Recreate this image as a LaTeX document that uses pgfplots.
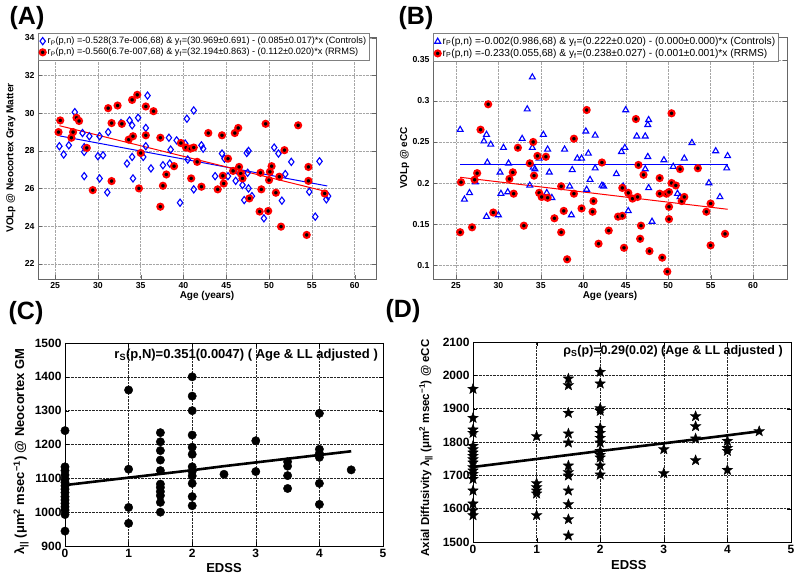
\documentclass[border=0pt]{standalone}
\usepackage{fontspec}
\setmainfont{Liberation Sans}
\usepackage{pgfplots}
\pgfplotsset{compat=1.18}

% filled five-pointed star, like MATLAB's pentagram
\pgfdeclareplotmark{fstar}{%
  \pgfpathmoveto{\pgfpointpolar{90}{\pgfplotmarksize}}%
  \pgfpathlineto{\pgfpointpolar{126}{0.42\pgfplotmarksize}}%
  \pgfpathlineto{\pgfpointpolar{162}{\pgfplotmarksize}}%
  \pgfpathlineto{\pgfpointpolar{198}{0.42\pgfplotmarksize}}%
  \pgfpathlineto{\pgfpointpolar{234}{\pgfplotmarksize}}%
  \pgfpathlineto{\pgfpointpolar{270}{0.42\pgfplotmarksize}}%
  \pgfpathlineto{\pgfpointpolar{306}{\pgfplotmarksize}}%
  \pgfpathlineto{\pgfpointpolar{342}{0.42\pgfplotmarksize}}%
  \pgfpathlineto{\pgfpointpolar{18}{\pgfplotmarksize}}%
  \pgfpathlineto{\pgfpointpolar{54}{0.42\pgfplotmarksize}}%
  \pgfpathclose
  \pgfusepathqfillstroke}

\pgfplotsset{
    ageaxis/.style={
        scale only axis,
        height=242pt,
        xtick={25,30,...,60},
        grid=major,
        major grid style={densely dotted, black!35},
        axis line style={black!60},
        tick style={black!60},
        tick label style={font=\fontsize{8.7}{10}\selectfont\bfseries},
        /pgf/number format/assume math mode=true,
        xlabel={Age (years)},
        label style={font=\fontsize{10}{12}\selectfont\bfseries},
        xlabel style={at={(axis description cs:0.5,-0.07)}, anchor=center},
        ylabel style={at={(axis description cs:-0.08,0.5)}, anchor=center},
        legend cell align=left,
        legend style={
            at={(0,1.015)}, anchor=north west,
            draw=black!50, fill=white,
            inner sep=1.5pt, row sep=-1pt,
        },
    },
    edssaxis/.style={
        scale only axis,
        width=318pt,
        xmin=0, xmax=5,
        xtick={0,1,2,3,4,5},
        grid=major,
        major grid style={densely dotted, black!85},
        axis line style={black, line width=0.8pt},
        tick style={black},
        tick label style={font=\fontsize{12}{14}\selectfont\bfseries},
        /pgf/number format/assume math mode=true,
        /pgf/number format/set thousands separator={},
        scaled ticks=false,
        xlabel={EDSS},
        label style={font=\fontsize{13}{15}\selectfont\bfseries},
    },
    ctrl/.style={only marks, mark=diamond, mark size=3.6pt, mark options={draw=blue, line width=1.1pt, fill=none}},
    rrms/.style={only marks, mark=*, mark size=3pt, mark options={draw=red, fill=black, line width=2.1pt}},
    tri/.style={only marks, mark=triangle, mark size=3.4pt, mark options={draw=blue, line width=1.1pt, fill=none}},
    fitline/.style={no marks, line width=1pt, forget plot},
}

\begin{document}
\begin{tikzpicture}
\useasboundingbox (0,0) rectangle (800pt,580pt);

% ---------------- (A)
\begin{axis}[
    ageaxis,
    at={(38pt,301pt)}, anchor=south west,
    width=338pt,
    xmin=23, xmax=62.5,
    ymin=21.2, ymax=34.05,
    ytick={22,24,26,28,30,32,34},
    ylabel={VOLp @ Neocortex Gray Matter},
    legend style={font=\fontsize{9.2}{11.5}\selectfont},
]
\addplot[ctrl] table {
x y
25.5 28.25
26.0 27.81
26.6 28.30
27.3 30.06
28.2 28.95
28.4 28.20
28.4 27.95
28.4 26.66
29.0 28.78
30.0 27.72
30.2 26.54
30.2 28.78
30.6 27.77
31.1 25.80
31.2 29.00
32.7 29.48
33.4 27.33
33.7 29.62
34.0 27.68
34.1 26.54
34.0 29.36
34.7 29.76
35.3 27.68
35.6 28.25
35.6 29.22
35.8 30.94
36.2 27.07
37.6 27.24
38.3 28.70
38.5 28.07
38.4 27.33
39.2 28.56
39.6 25.25
40.2 28.39
40.4 29.71
40.5 27.54
41.2 30.15
41.2 25.96
42.1 28.30
42.3 28.12
43.7 26.66
44.5 27.86
44.8 27.59
45.2 26.66
46.1 26.41
46.2 26.98
46.9 26.19
47.1 25.39
47.4 27.89
47.6 28.00
47.5 26.84
47.6 26.01
48.0 25.60
49.4 24.42
50.6 28.18
51.1 27.86
51.5 25.36
51.9 26.77
52.6 27.42
54.7 25.83
55.4 24.51
55.9 27.45
56.7 25.43
56.9 25.60
};
\addlegendentry{r\textsubscript{P}(p,n) =-0.528(3.7e-006,68) \& y\textsubscript{f}=(30.969±0.691) - (0.085±0.017)*x (Controls)}
\addplot[rrms] table {
x y
25.4 29.00
25.6 29.62
26.9 28.70
27.1 29.00
27.5 29.76
27.8 29.59
28.7 28.16
29.4 25.92
31.2 30.27
31.6 29.48
31.6 26.40
32.3 30.41
32.8 29.44
33.6 28.60
34.0 30.71
34.1 28.78
34.6 30.98
34.8 26.01
35.0 27.89
35.6 30.36
35.6 28.83
36.5 30.11
37.3 28.70
37.3 25.04
37.6 26.15
38.0 26.75
38.9 27.19
39.7 28.42
40.3 28.18
40.8 28.12
41.2 28.18
40.9 26.54
41.6 27.42
42.1 26.10
42.9 28.95
44.0 25.96
44.5 28.83
44.6 26.68
44.7 26.27
45.2 27.59
46.0 28.95
46.4 29.22
45.8 26.94
46.5 27.15
46.7 26.80
46.9 26.54
47.7 25.48
49.0 26.84
49.1 25.96
48.9 24.78
49.6 29.44
49.9 24.81
50.0 26.45
50.1 26.89
50.3 27.19
50.8 25.78
51.2 26.63
51.4 23.98
51.8 28.04
53.4 29.36
54.4 23.54
54.6 27.15
54.6 26.41
56.5 25.74
};
\addlegendentry{r\textsubscript{P}(p,n) =-0.560(6.7e-007,68) \& y\textsubscript{f}=(32.194±0.863) - (0.112±0.020)*x (RRMS)}
\addplot[fitline, draw=blue] coordinates {(25.5,28.80) (56.8,26.14)};
\addplot[fitline, draw=red] coordinates {(25.5,29.34) (56.8,25.83)};
\end{axis}

% ---------------- (B)
\begin{axis}[
    ageaxis,
    at={(433pt,301pt)}, anchor=south west,
    width=354pt,
    xmin=22.3, xmax=64,
    ymin=0.083, ymax=0.378,
    ytick={0.1,0.15,0.2,0.25,0.3,0.35},
    yticklabel style={/pgf/number format/fixed},
    ylabel={VOLp @ eCC},
    legend style={font=\fontsize{10.2}{12}\selectfont},
]
\addplot[tri] table {
x y
25.5 0.265
26.0 0.180
26.6 0.188
27.3 0.201
28.3 0.251
28.6 0.259
28.7 0.225
28.6 0.159
29.1 0.247
30.0 0.161
30.2 0.213
30.3 0.187
30.6 0.243
31.1 0.189
31.2 0.224
32.8 0.254
33.4 0.290
33.7 0.197
34.0 0.243
34.0 0.329
34.1 0.219
34.3 0.217
34.8 0.230
35.3 0.259
35.7 0.188
35.8 0.241
36.0 0.213
36.3 0.182
37.8 0.241
38.4 0.196
38.6 0.161
38.7 0.216
39.3 0.230
39.8 0.230
40.3 0.263
40.4 0.192
40.6 0.236
40.8 0.204
41.4 0.218
41.4 0.258
42.2 0.197
42.4 0.196
43.9 0.211
44.5 0.238
44.7 0.196
44.9 0.243
45.0 0.289
45.3 0.166
46.3 0.257
47.3 0.257
47.3 0.217
47.6 0.271
47.7 0.277
47.6 0.232
47.7 0.194
48.1 0.153
49.5 0.228
50.6 0.220
51.1 0.187
51.4 0.183
51.9 0.230
52.8 0.249
54.8 0.200
55.6 0.239
56.1 0.183
57.0 0.233
56.9 0.218
};
\addlegendentry{r\textsubscript{P}(p,n) =-0.002(0.986,68) \& y\textsubscript{f}=(0.222±0.020) - (0.000±0.000)*x (Controls)}
\addplot[rrms] table {
x y
25.5 0.140
25.6 0.201
26.9 0.146
27.2 0.204
27.5 0.212
27.9 0.265
28.8 0.296
29.4 0.164
31.3 0.205
31.7 0.213
31.8 0.187
32.3 0.243
33.0 0.148
33.7 0.224
34.1 0.250
34.2 0.209
34.6 0.233
34.8 0.188
35.1 0.183
35.6 0.232
35.8 0.182
36.6 0.157
37.4 0.196
37.4 0.140
37.7 0.166
38.1 0.107
38.9 0.254
38.9 0.187
39.8 0.169
40.4 0.289
41.1 0.165
41.2 0.178
41.8 0.126
42.2 0.225
43.0 0.142
44.1 0.159
44.6 0.160
44.6 0.194
44.8 0.121
45.3 0.188
45.8 0.181
46.2 0.278
46.4 0.183
46.5 0.222
46.7 0.132
46.8 0.148
47.1 0.210
47.8 0.117
49.0 0.206
49.0 0.187
49.3 0.109
49.8 0.187
49.9 0.092
50.1 0.171
50.1 0.156
50.1 0.189
50.4 0.285
50.4 0.200
50.9 0.197
51.4 0.217
51.6 0.178
51.9 0.183
53.5 0.218
54.5 0.165
55.0 0.175
55.0 0.124
56.7 0.138
};
\addlegendentry{r\textsubscript{P}(p,n) =-0.233(0.055,68) \& y\textsubscript{f}=(0.238±0.027) - (0.001±0.001)*x (RRMS)}
\addplot[fitline, draw=blue] coordinates {(25.5,0.222) (57.0,0.222)};
\addplot[fitline, draw=red] coordinates {(25.5,0.207) (57.0,0.168)};
\end{axis}

% ---------------- (C)
\begin{axis}[
    edssaxis,
    at={(65pt,34pt)}, anchor=south west,
    height=203pt,
    ymin=900, ymax=1500,
    ytick={900,1000,...,1500},
    ylabel={λ\textsubscript{||} (μm\textsuperscript{2} msec\textsuperscript{−1}) @ Neocortex GM},
    xlabel style={at={(axis description cs:0.5,-0.108)}, anchor=center},
    ylabel style={at={(axis description cs:-0.138,0.465)}, anchor=center},
]
\addplot[only marks, mark=*, mark size=4.2pt, black] table {
x y
0 1241
0 1134
0 1123
0 1110
0 1097
0 1088
0 1078
0 1068
0 1058
0 1046
0 1036
0 1026
0 1016
0 1006
0 993
0 944
1 1361
1 1127
1 1014
1 967
1.5 1235
1.5 1208
1.5 1182
1.5 1154
1.5 1123
1.5 1083
1.5 1073
1.5 1061
1.5 1049
1.5 1029
1.5 1000
2 1400
2 1343
2 1300
2 1228
2 1192
2 1171
2 1134
2 1120
2 1107
2 1085
2 1046
2 1019
2.5 1112
3 1211
3 1120
3.5 1149
3.5 1136
3.5 1108
3.5 1070
4 1292
4 1186
4 1174
4 1162
4 1085
4 1023
4.5 1125
};
\addplot[black, line width=2.6pt, no marks] coordinates {
(0,1080) (1,1102) (1.5,1113) (2,1124) (2.5,1136) (3,1147) (3.5,1158) (4,1169) (4.5,1180)};
\node[anchor=east, font=\fontsize{13}{15}\selectfont\bfseries] at (rel axis cs:0.995,0.94)
    {r\textsubscript{S}(p,N)=0.351(0.0047) ( Age \& LL adjusted )};
\end{axis}

% ---------------- (D)
\begin{axis}[
    edssaxis,
    at={(473pt,38pt)}, anchor=south west,
    height=200pt,
    ymin=1500, ymax=2100,
    ytick={1500,1600,...,2100},
    ylabel={Axial Diffusivity λ\textsubscript{||} (μm\textsuperscript{2} msec\textsuperscript{−1}) @ eCC},
    ylabel style={at={(axis description cs:-0.148,0.47)}, anchor=center, font=\fontsize{11.5}{13}\selectfont\bfseries},
    xlabel style={at={(axis description cs:0.49,-0.115)}, anchor=center},
]
\addplot[black, line width=2.6pt, no marks] coordinates {
(0,1725) (1,1749) (1.5,1761) (2,1773) (3,1796) (3.5,1808) (4,1820) (4.5,1832)};
\addplot[only marks, mark=fstar, mark size=5.5pt, black, mark options={fill=black, line width=0.4pt}] table {
x y
0 1959
0 1872
0 1837
0 1827
0 1788
0 1778
0 1768
0 1758
0 1748
0 1738
0 1724
0 1714
0 1704
0 1689
0 1654
0 1615
0 1595
0 1580
1 1817
1 1676
1 1664
1 1654
1 1645
1 1580
1.5 1990
1.5 1970
1.5 1887
1.5 1825
1.5 1798
1.5 1729
1.5 1709
1.5 1699
1.5 1654
1.5 1613
1.5 1568
1.5 1519
2 2010
2 1975
2 1901
2 1893
2 1842
2 1827
2 1812
2 1798
2 1773
2 1761
2 1753
2 1729
2 1702
3 1778
3 1706
3.5 1877
3.5 1847
3.5 1810
3.5 1745
4 1803
4 1782
4 1773
4 1716
4.5 1832
};
\node[anchor=east, font=\fontsize{12.5}{15}\selectfont\bfseries] at (rel axis cs:0.985,0.955)
    {ρ\textsubscript{S}(p)=0.29(0.02) (Age \& LL adjusted )};
\end{axis}

% panel letters
\node[font=\fontsize{25}{28}\selectfont\bfseries] at (27pt,562pt) {(A)};
\node[font=\fontsize{25}{28}\selectfont\bfseries] at (416pt,562pt) {(B)};
\node[font=\fontsize{25}{28}\selectfont\bfseries] at (26pt,267pt) {(C)};
\node[font=\fontsize{25}{28}\selectfont\bfseries] at (403pt,269pt) {(D)};
\end{tikzpicture}
\end{document}
